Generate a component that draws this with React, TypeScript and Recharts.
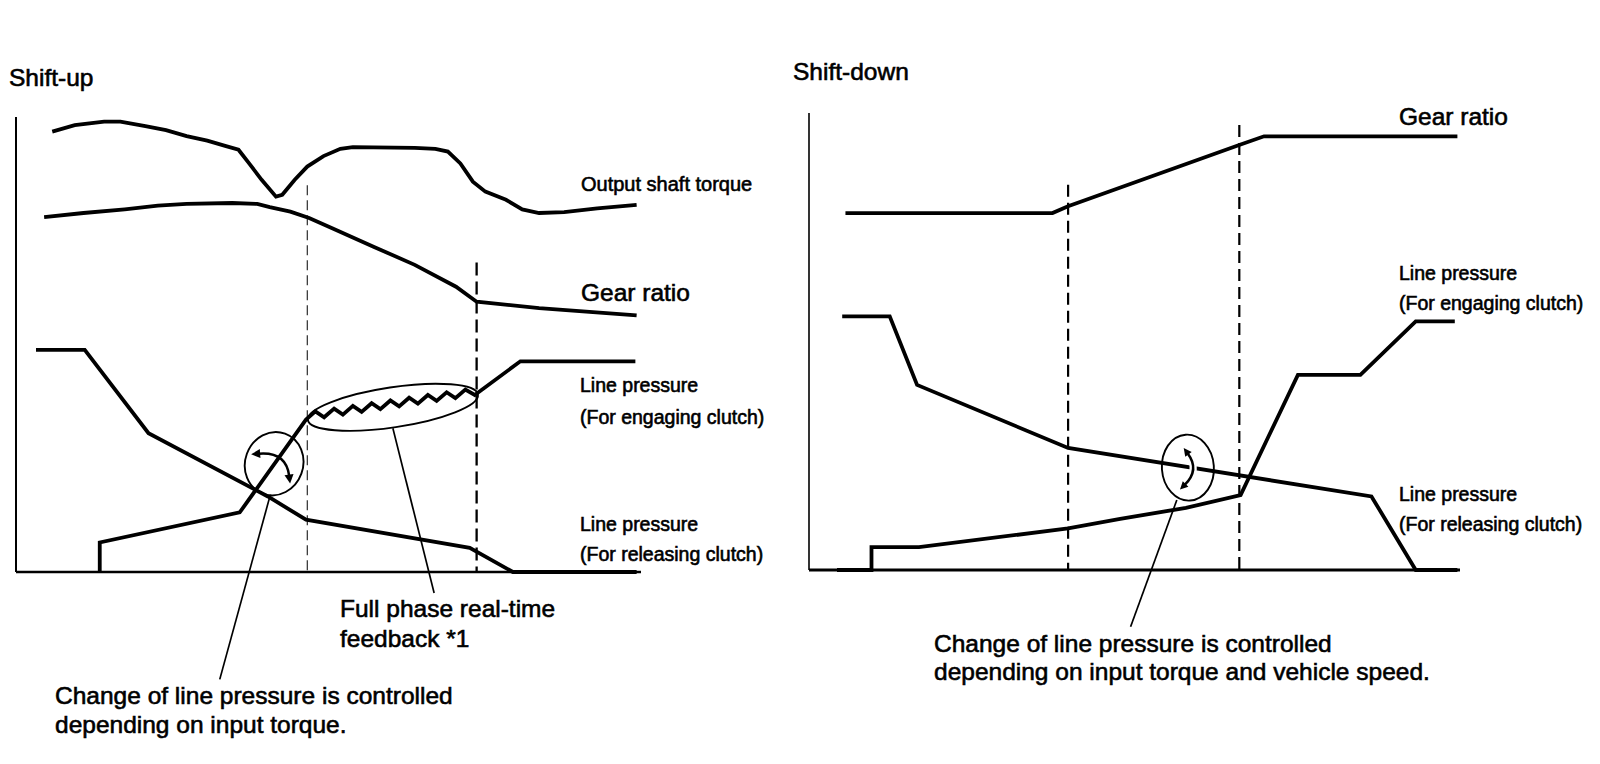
import { LineChart, Line, XAxis, YAxis, ReferenceLine, ReferenceDot } from "recharts";

type Pt = { t: number; v: number };
const pts = (rows: number[][]): Pt[] => rows.map(([t, v]) => ({ t, v }));

// Shift-up panel: time 0..100, level 0..100
const upTorque = pts([
  [5.8, 96.8], [9.4, 98.2], [14.1, 99.0], [16.7, 99.0], [20.7, 98.0], [24.0, 97.1],
  [27.3, 95.8], [30.6, 94.8], [33.6, 93.6], [35.6, 92.8], [37.3, 89.8], [39.3, 86.2],
  [41.6, 82.5], [42.6, 82.9], [44.6, 86.2], [46.6, 89.1], [49.2, 91.4], [51.9, 93.0],
  [53.9, 93.4], [63.8, 93.2], [67.1, 93.0], [69.1, 92.4], [71.1, 89.8], [73.1, 85.8],
  [75.1, 83.6], [78.4, 81.8], [81.0, 79.7], [83.7, 78.9], [87.7, 79.1], [93.0, 79.9],
  [99.3, 80.7],
]);
const upGear = pts([
  [4.5, 78.0], [10.8, 78.9], [17.4, 79.7], [22.7, 80.5], [27.3, 80.9], [34.6, 81.1],
  [38.6, 80.9], [40.6, 80.2], [43.9, 79.2], [46.9, 77.8], [50.5, 75.6], [57.2, 71.5],
  [63.8, 67.5], [70.4, 62.7], [73.7, 59.4], [83.7, 58.0], [99.3, 56.4],
]);
// engaging clutch pressure, with the feedback ripple between the two phase lines
const upEngage = pts([
  [13.4, 0], [13.4, 6.5], [35.8, 13.1], [46.4, 33.5],
  [47.9, 35.3], [49.3, 34.0], [50.9, 35.9], [52.3, 34.6], [53.9, 36.5], [55.3, 35.2],
  [56.9, 37.1], [58.3, 35.8], [59.9, 37.7], [61.3, 36.4], [62.9, 38.3], [64.3, 37.0],
  [65.9, 38.9], [67.3, 37.6], [68.9, 39.5], [70.3, 38.2], [71.9, 40.1], [73.4, 38.9],
  [80.7, 46.3], [99.1, 46.3],
]);
const upRelease = pts([
  [3.2, 48.8], [11.0, 48.8], [21.2, 30.5], [40.3, 16.6], [46.4, 11.5], [72.6, 5.3],
  [79.5, 0], [99.3, 0],
]);
const upPhaseX = [46.6, 73.7];
const upPhaseTop = [85.0, 68.0];

// Shift-down panel
const downGear = pts([
  [5.6, 78.1], [37.4, 78.1], [39.8, 79.6], [66.3, 93.1], [69.9, 94.9], [99.6, 94.9],
]);
const downEngage = pts([
  [4.3, 0], [9.6, 0], [9.6, 5.0], [16.9, 5.0], [39.8, 9.1], [47.8, 11.2], [57.9, 13.6],
  [66.3, 16.4], [75.1, 42.7], [84.7, 42.7], [93.2, 54.4], [99.2, 54.4],
]);
const downRelease = pts([
  [5.1, 55.5], [12.4, 55.5], [16.6, 40.5], [39.8, 26.7], [86.4, 16.1], [93.2, 0], [99.6, 0],
]);
const downPhaseX = [39.8, 66.1];
const downPhaseTop = [84.3, 97.4];

// callouts: circled zone centre and leader line ends
const upTorqueZone = { t: 41.3, v: 23.8 };
const upFeedbackZone = { t: 60.3, v: 36.2 };
const upLeaderTorque = [{ x: 40.7, y: 17.0 }, { x: 32.6, y: -23.6 }];
const upLeaderFeedback = [{ x: 60.3, y: 31.6 }, { x: 66.9, y: -4.6 }];
const downZone = { t: 58.2, v: 22.4 };
const downLeader = [{ x: 56.5, y: 15.3 }, { x: 49.4, y: -12.4 }];

const INK = "#000";
const FONT = "'Liberation Sans', Arial, Helvetica, sans-serif";

const Loop = (p: any) => (
  <ellipse
    cx={p.cx}
    cy={p.cy}
    rx={p.rx}
    ry={p.ry}
    transform={`rotate(${p.rot} ${p.cx} ${p.cy})`}
    fill="none"
    stroke={INK}
    strokeWidth={1.9}
  />
);

const UpArrows = (p: any) => (
  <g transform={`translate(${p.cx} ${p.cy})`}>
    <ellipse rx={29} ry={32} transform="rotate(20)" fill="none" stroke={INK} strokeWidth={1.9} />
    <path d="M -15 -10 Q 12 -12 15 12" fill="none" stroke={INK} strokeWidth={2.5} />
    <polygon points="-23,-9.4 -13.7,-5.6 -14.3,-14.6" fill={INK} />
    <polygon points="16,19.9 19.4,10.4 10.4,11.6" fill={INK} />
  </g>
);

const DownArrows = (p: any) => (
  <g transform={`translate(${p.cx} ${p.cy})`}>
    <path d="M 0 -14 Q 12 2 -3 17" fill="none" stroke="#fff" strokeWidth={7} />
    <ellipse rx={26} ry={33} transform="rotate(-4)" fill="none" stroke={INK} strokeWidth={1.9} />
    <path d="M 0 -14 Q 12 2 -3 17" fill="none" stroke={INK} strokeWidth={2.5} />
    <polygon points="-4.2,-19.6 3.8,-15.6 -2.6,-10.8" fill={INK} />
    <polygon points="-7.9,21.9 0.5,19.1 -5.1,13.5" fill={INK} />
  </g>
);

const curve = (data: Pt[], key: string) => (
  <Line
    key={key}
    data={data}
    dataKey="v"
    type="linear"
    stroke={INK}
    strokeWidth={3.8}
    dot={false}
    activeDot={false}
    isAnimationActive={false}
  />
);

const axes = (
  <>
    <XAxis type="number" dataKey="t" domain={[0, 100]} hide height={0} />
    <YAxis type="number" domain={[0, 100]} hide width={0} />
  </>
);

function ShiftUp() {
  return (
    <LineChart width={800} height={764} margin={{ top: 117, right: 159, bottom: 192, left: 16 }}>
      {axes}
      <ReferenceLine x={0} stroke={INK} strokeWidth={2} />
      <ReferenceLine y={0} stroke={INK} strokeWidth={2.6} />
      <ReferenceLine
        segment={[{ x: upPhaseX[0], y: upPhaseTop[0] }, { x: upPhaseX[0], y: 0 }]}
        stroke={INK}
        strokeWidth={1}
        strokeDasharray="10 5"
      />
      <ReferenceLine
        segment={[{ x: upPhaseX[1], y: upPhaseTop[1] }, { x: upPhaseX[1], y: 0 }]}
        stroke={INK}
        strokeWidth={2.3}
        strokeDasharray="13 6"
      />
      {curve(upTorque, "torque")}
      {curve(upGear, "gear")}
      {curve(upEngage, "engage")}
      {curve(upRelease, "release")}
      <ReferenceLine segment={upLeaderTorque} stroke={INK} strokeWidth={1.7} ifOverflow="visible" />
      <ReferenceLine segment={upLeaderFeedback} stroke={INK} strokeWidth={1.7} ifOverflow="visible" />
      <ReferenceDot x={upTorqueZone.t} y={upTorqueZone.v} shape={(p: any) => <UpArrows {...p} />} />
      <ReferenceDot
        x={upFeedbackZone.t}
        y={upFeedbackZone.v}
        shape={(p: any) => <Loop {...p} rx={86} ry={20} rot={-8.5} />}
      />
    </LineChart>
  );
}

function ShiftDown() {
  return (
    <LineChart width={800} height={764} margin={{ top: 113, right: 140, bottom: 194, left: 9 }}>
      {axes}
      <ReferenceLine x={0} stroke={INK} strokeWidth={1.6} />
      <ReferenceLine y={0} stroke={INK} strokeWidth={3} />
      {downPhaseX.map((x, i) => (
        <ReferenceLine
          key={x}
          segment={[{ x, y: downPhaseTop[i] }, { x, y: 0 }]}
          stroke={INK}
          strokeWidth={2.2}
          strokeDasharray="12 6"
        />
      ))}
      {curve(downGear, "gear")}
      {curve(downRelease, "release")}
      {curve(downEngage, "engage")}
      <ReferenceLine segment={downLeader} stroke={INK} strokeWidth={1.7} ifOverflow="visible" />
      <ReferenceDot x={downZone.t} y={downZone.v} shape={(p: any) => <DownArrows {...p} />} />
    </LineChart>
  );
}

const T = ({ x, y, size = 24.5, children }: any) => (
  <text x={x} y={y} fontSize={size} fontFamily={FONT} fill={INK} stroke={INK} strokeWidth={0.6}>
    {children}
  </text>
);

export default function App() {
  return (
    <div style={{ position: "absolute", left: 0, top: 0, width: 1600, height: 764, background: "#fff" }}>
      <div style={{ position: "absolute", left: 0, top: 0 }}>
        <ShiftUp />
      </div>
      <div style={{ position: "absolute", left: 800, top: 0 }}>
        <ShiftDown />
      </div>
      <svg width={1600} height={764} style={{ position: "absolute", left: 0, top: 0, pointerEvents: "none" }}>
        <T x={9} y={86}>Shift-up</T>
        <T x={581} y={191} size={20}>Output shaft torque</T>
        <T x={581} y={301}>Gear ratio</T>
        <T x={580} y={392} size={19.5}>Line pressure</T>
        <T x={580} y={424} size={19.5}>(For engaging clutch)</T>
        <T x={580} y={531} size={19.5}>Line pressure</T>
        <T x={580} y={561} size={19.5}>(For releasing clutch)</T>
        <T x={340} y={617}>Full phase real-time</T>
        <T x={340} y={647}>feedback *1</T>
        <T x={55} y={704}>Change of line pressure is controlled</T>
        <T x={55} y={733}>depending on input torque.</T>

        <T x={793} y={80}>Shift-down</T>
        <T x={1399} y={125}>Gear ratio</T>
        <T x={1399} y={280} size={19.5}>Line pressure</T>
        <T x={1399} y={310} size={19.5}>(For engaging clutch)</T>
        <T x={1399} y={501} size={19.5}>Line pressure</T>
        <T x={1399} y={531} size={19.5}>(For releasing clutch)</T>
        <T x={934} y={652}>Change of line pressure is controlled</T>
        <T x={934} y={680}>depending on input torque and vehicle speed.</T>
      </svg>
    </div>
  );
}
